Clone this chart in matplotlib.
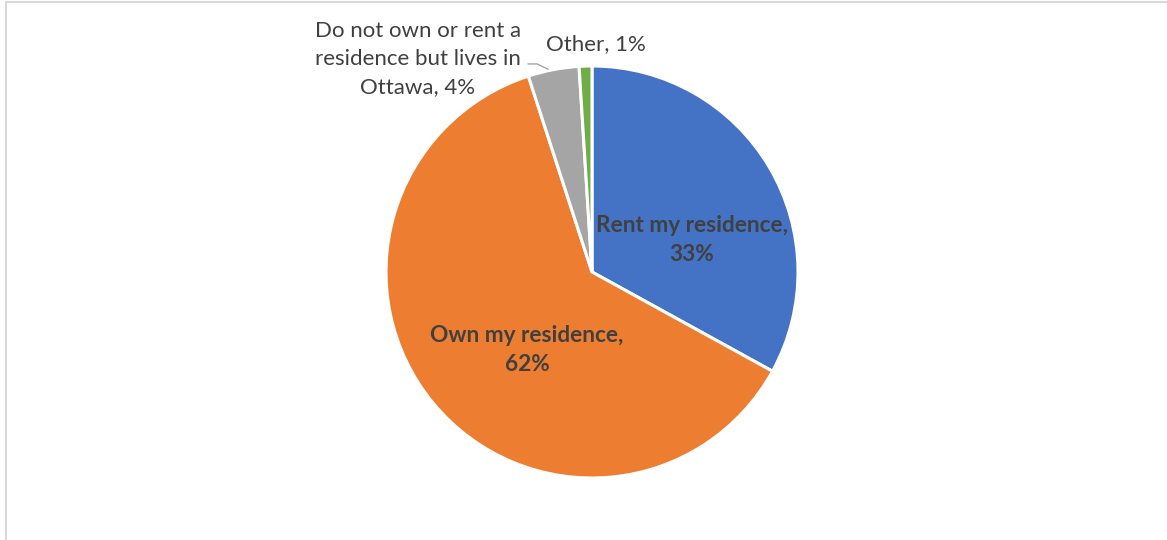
import matplotlib.pyplot as plt
from matplotlib.patches import Rectangle

labels = ['Rent my residence', 'Own my residence',
          'Do not own or rent a\nresidence but lives in\nOttawa', 'Other']
shares = [33, 62, 4, 1]
colors = ['#4472C4', '#ED7D31', '#A5A5A5', '#70AD47']

W, H = 1167, 540
CX, CY, R = 592, 272, 206

plt.rcParams['font.family'] = ['Lato', 'DejaVu Sans']

fig = plt.figure(figsize=(W / 100, H / 100), dpi=100)
# chart frame (offset, only top and left visible)
fig.add_artist(Rectangle((6 / W, -0.05), 1.2, 1 - 2 / H + 0.05,
                         transform=fig.transFigure, fill=False,
                         edgecolor='#D9D9D9', linewidth=1.5))

ax = fig.add_axes([(CX - R) / W, (H - CY - R) / H, 2 * R / W, 2 * R / H])
wedges, _ = ax.pie(shares, colors=colors, startangle=90, counterclock=False,
                   radius=1, wedgeprops=dict(edgecolor='white', linewidth=2.2))
ax.set_xlim(-1, 1)
ax.set_ylim(-1, 1)
ax.set_aspect('equal')
ax.axis('off')

txt = '#404040'
ax.text(0.485, 0.155, f'{labels[0]},\n{shares[0]}%', ha='center', va='center',
        fontsize=16.3, fontweight='bold', color=txt, linespacing=1.5)
ax.text(-0.316, -0.379, f'{labels[1]},\n{shares[1]}%', ha='center', va='center',
        fontsize=16.3, fontweight='bold', color=txt, linespacing=1.5)
ax.text(-0.845, 1.035, f'{labels[2]}, {shares[2]}%', ha='center', va='center',
        fontsize=16, color=txt, linespacing=1.5, clip_on=False)
ax.text(0.019, 1.107, f'{labels[3]}, {shares[3]}%', ha='center', va='center',
        fontsize=16, color=txt, clip_on=False)
ax.plot([-0.31, -0.267, -0.214], [1.01, 1.01, 0.985], color='#A6A6A6',
        linewidth=1, clip_on=False)

fig.savefig('out.png', dpi=100)
